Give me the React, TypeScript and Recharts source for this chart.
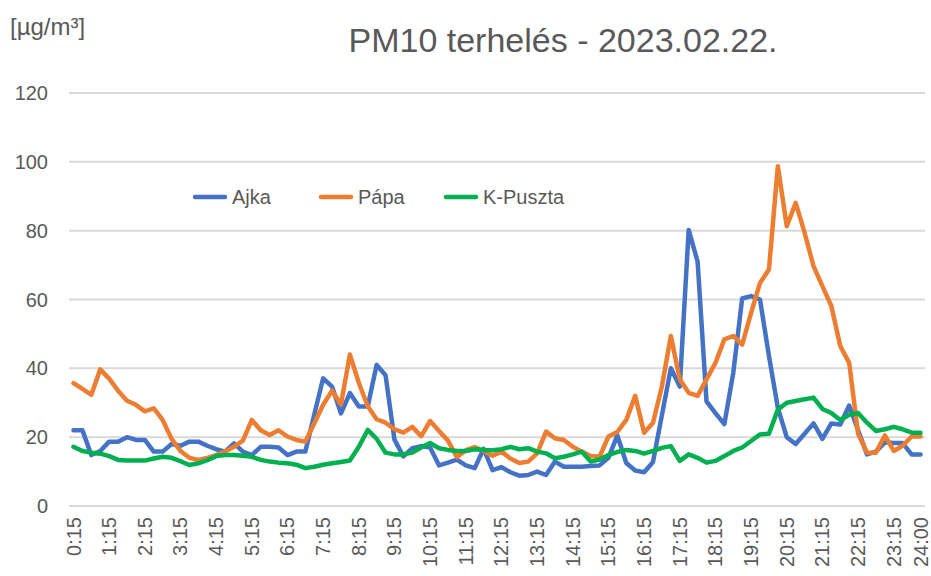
import { LineChart, Line, XAxis, YAxis, CartesianGrid } from 'recharts';

const seriesNames = ['Ajka', 'Pápa', 'K-Puszta'];
const seriesColors = ['#4472C4', '#ED7D31', '#00B050'];

const ajka = [
  22, 22, 14.8, 16, 18.7, 18.7, 20, 19.2,
  19.2, 15.8, 15.8, 18, 17.5, 18.7, 18.7, 17.5,
  16.5, 15.8, 18.2, 15.8, 14.8, 17.2, 17.2, 17,
  14.8, 15.8, 15.8, 26.5, 37.1, 34.7, 26.9, 32.8,
  28.9, 28.9, 41, 38, 19.3, 14.4, 16.8, 17.4,
  17, 11.8, 12.6, 13.5, 11.8, 11, 16.6, 10.4,
  11.3, 9.8, 8.8, 9, 10, 9, 12.9, 11.4,
  11.4, 11.4, 11.6, 11.8, 14, 20.5, 12.5, 10.3,
  9.8, 12.8, 26.5, 40, 34.7, 80.2, 71, 30.4,
  27, 23.8, 38.7, 60.3, 61, 60, 43.6, 28.5,
  20, 18, 21, 24, 19.5, 24, 23.7, 29.2,
  22, 15, 15.8, 18.5, 18.3, 18.3, 15, 15,
];

const papa = [
  35.7, 34, 32.3, 39.7, 37, 33.5, 30.6, 29.4,
  27.5, 28.4, 25, 19.5, 16, 14, 13.4, 14,
  14.8, 15.8, 17.2, 19, 25, 22, 20.6, 22,
  20.2, 19.2, 18.7, 24, 29.4, 33.5, 29.5, 44,
  35.8, 29, 25.2, 24.2, 22.3, 21.3, 23, 20.3,
  24.7, 21.8, 19, 14.2, 16.2, 17.1, 16, 14.6,
  15.8, 13.8, 12.5, 12.9, 15.3, 21.6, 19.7, 19.2,
  17.2, 15.8, 14.5, 14.3, 20.2, 21.5, 25, 32,
  21.3, 24.2, 34.8, 49.4, 36.8, 32.9, 32, 36.8,
  41.6, 48.4, 49.4, 46.9, 56.1, 64.8, 68.7, 98.7,
  81.3, 88.1, 79.4, 69.7, 63.9, 58.1, 46.5, 41.6,
  21, 15.5, 15.5, 20.5, 16, 17.5, 20.2, 20.2,
];

const kPuszta = [
  17.2, 16, 15.5, 15.2, 14.5, 13.4, 13.2, 13.2,
  13.2, 13.8, 14.3, 14, 13, 11.9, 12.4, 13.3,
  14.5, 14.8, 14.8, 14.6, 14.3, 13.4, 12.9, 12.6,
  12.4, 12, 11, 11.4, 12, 12.4, 12.8, 13.2,
  17.2, 22.1, 19.5, 15.5, 15, 15, 15.5, 17,
  18.3, 16.8, 16.3, 16, 16, 16.5, 16.3, 16.2,
  16.5, 17.2, 16.5, 16.8, 15.8, 15.3, 13.9, 14.3,
  15, 15.8, 12.9, 13.5, 14.8, 15.7, 16.3, 16,
  15.2, 16, 16.9, 17.4, 13.1, 15, 14, 12.6,
  13.1, 14.5, 16, 17, 18.9, 20.8, 21, 28,
  30, 30.5, 31, 31.5, 28.2, 27, 25, 26.5,
  27, 24.2, 21.8, 22.3, 23, 22.3, 21.3, 21.3,
];

// 15-minute time stamps, 0:15 .. 24:00
const times = Array.from({ length: 96 }, (_, i) => {
  const m = (i + 1) * 15;
  return `${Math.floor(m / 60)}:${String(m % 60).padStart(2, '0')}`;
});

const xTicks = [
  '0:15', '1:15', '2:15', '3:15', '4:15', '5:15', '6:15', '7:15', '8:15',
  '9:15', '10:15', '11:15', '12:15', '13:15', '14:15', '15:15', '16:15',
  '17:15', '18:15', '19:15', '20:15', '21:15', '22:15', '23:15', '24:00',
];
const yTicks = [0, 20, 40, 60, 80, 100, 120];

const seriesValues = [ajka, papa, kPuszta];

const data = times.map((t, i) => {
  const row: any = { time: t };
  seriesNames.forEach((name, s) => {
    row[name] = seriesValues[s][i];
  });
  return row;
});

const textColor = '#595959';

const TimeTick = (props: any) => {
  const { x, y, payload } = props;
  return (
    <g transform={`translate(${x},${y + 3})`}>
      <text transform="rotate(-90)" textAnchor="end" dy="0.35em" fontSize={20} fill={textColor}>
        {payload.value}
      </text>
    </g>
  );
};

const legendX = [195, 321, 446];

export default function App() {
  return (
    <div
      style={{
        position: 'absolute',
        top: 0,
        left: 0,
        width: 931,
        height: 576,
        background: '#fff',
        fontFamily: '"Liberation Sans", Arial, sans-serif',
      }}
    >
      <LineChart width={931} height={576} data={data} margin={{ top: 93, right: 6, bottom: 0, left: 0 }}>
        <CartesianGrid vertical={false} stroke="#d9d9d9" strokeWidth={2} />
        <XAxis
          dataKey="time"
          ticks={xTicks}
          interval={0}
          height={70}
          axisLine={false}
          tickLine={false}
          padding={{ left: 4.5, right: 4.5 }}
          tick={<TimeTick />}
        />
        <YAxis
          domain={[0, 120]}
          ticks={yTicks}
          width={69}
          axisLine={false}
          tickLine={false}
          tickMargin={15}
          tick={{ fontSize: 20, fill: textColor }}
        />
        {seriesNames.map((name, s) => (
          <Line
            key={name}
            type="linear"
            dataKey={name}
            stroke={seriesColors[s]}
            strokeWidth={4.5}
            strokeLinejoin="round"
            strokeLinecap="round"
            dot={false}
            activeDot={false}
            isAnimationActive={false}
          />
        ))}
      </LineChart>
      <svg
        width={931}
        height={576}
        style={{ position: 'absolute', top: 0, left: 0, pointerEvents: 'none' }}
      >
        <text x={10} y={35} fontSize={24} fill={textColor}>
          [µg/m³]
        </text>
        <text x={563} y={52} textAnchor="middle" fontSize={34} fill={textColor}>
          PM10 terhelés - 2023.02.22.
        </text>
        {seriesNames.map((name, s) => (
          <g key={name}>
            <line
              x1={legendX[s]}
              x2={legendX[s] + 30}
              y1={197}
              y2={197}
              stroke={seriesColors[s]}
              strokeWidth={4.5}
              strokeLinecap="round"
            />
            <text x={legendX[s] + 37} y={204} fontSize={20} fill={textColor}>
              {name}
            </text>
          </g>
        ))}
      </svg>
    </div>
  );
}
